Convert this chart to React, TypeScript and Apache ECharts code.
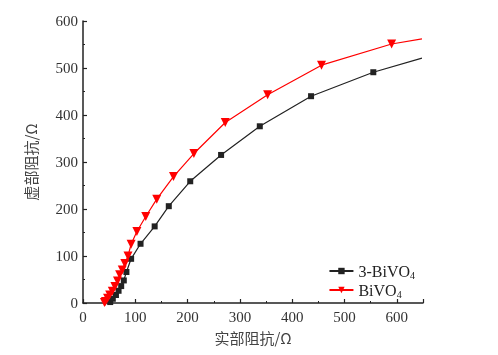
import React, { useEffect, useRef } from "react";
import * as echarts from "echarts";

const seriesNames = ["3-BiVO4", "BiVO4"];

const blackX = [52, 57, 63, 68, 73, 78, 83, 92, 110, 137, 164, 205, 264, 338, 436, 555, 648];
const blackY = [2, 9, 17, 26, 36, 48, 66, 94, 126, 163, 206, 259, 315, 376, 440, 491, 521];

const redX = [41, 43, 47, 51, 56, 61, 66, 70, 75, 80, 86, 92, 103, 120, 141, 173, 212, 272, 353, 456, 590, 648];
const redY = [1, 3, 10, 17, 25, 35, 47, 60, 70, 84, 100, 125, 152, 184, 221, 269, 318, 384, 443, 506, 551, 562];

const xTicks = [0, 100, 200, 300, 400, 500, 600];
const yTicks = [0, 100, 200, 300, 400, 500, 600];

function toData(xs: number[], ys: number[]) {
  return xs.map((x, i) => {
    const item: any = { value: [x, ys[i]] };
    if (i === xs.length - 1) item.symbol = "none";
    return item;
  });
}

export default function App() {
  const ref = useRef<HTMLDivElement>(null);
  useEffect(() => {
    if (!ref.current) return;
    const chart = echarts.init(ref.current, undefined, { renderer: "svg" });
    const serif = "'Liberation Serif', 'Times New Roman', serif";
    const axisCommon = {
      axisLine: { show: true, lineStyle: { color: "#222", width: 1.5 } },
      axisTick: { show: true, inside: true, length: 4, lineStyle: { color: "#222", width: 1.2 } },
      minorTick: { show: true, splitNumber: 2, length: 2, lineStyle: { color: "#222", width: 1 } },
      splitLine: { show: false },
      axisLabel: { color: "#333", fontFamily: serif, fontSize: 15 },
    };
    chart.setOption({
      animation: false,
      grid: { left: 83, right: 75, top: 21, bottom: 52, containLabel: false },
      legend: {
        orient: "vertical",
        right: 78,
        top: 258,
        itemGap: 2,
        itemWidth: 24,
        itemHeight: 8,
        data: seriesNames,
        formatter: (n: string) => n.replace("BiVO4", "BiVO{sub|4}"),
        textStyle: {
          fontFamily: serif,
          fontSize: 16,
          color: "#222",
          rich: { sub: { fontFamily: serif, fontSize: 10, color: "#222", padding: [8, 0, 0, 0] } },
        },
      },
      xAxis: {
        type: "value",
        min: 0,
        max: 650,
        interval: 100,
        ...axisCommon,
        axisLabel: { ...axisCommon.axisLabel, showMaxLabel: false, margin: 6 },
        name: "实部阻抗/Ω",
        nameLocation: "middle",
        nameGap: 27,
        nameTextStyle: { fontFamily: "'Noto Sans CJK SC', sans-serif", fontSize: 15, color: "#444" },
      },
      yAxis: {
        type: "value",
        min: 0,
        max: 600,
        interval: 100,
        ...axisCommon,
        axisLabel: { ...axisCommon.axisLabel, margin: 5 },
        name: "虚部阻抗/Ω",
        nameLocation: "middle",
        nameGap: 45,
        nameTextStyle: { fontFamily: "'Noto Sans CJK SC', sans-serif", fontSize: 15, color: "#444" },
      },
      series: [
        {
          name: seriesNames[0],
          type: "line",
          data: toData(blackX, blackY),
          symbol: "rect",
          symbolSize: 6,
          itemStyle: { color: "#222" },
          lineStyle: { color: "#222", width: 1.2 },
        },
        {
          name: seriesNames[1],
          type: "line",
          data: toData(redX, redY),
          symbol: "triangle",
          symbolRotate: 180,
          symbolSize: 9,
          itemStyle: { color: "#ff0000" },
          lineStyle: { color: "#ff0000", width: 1.2 },
        },
      ],
    });
    return () => chart.dispose();
  }, []);
  return <div ref={ref} style={{ position: "fixed", left: 0, top: 0, width: 498, height: 355 }} />;
}
